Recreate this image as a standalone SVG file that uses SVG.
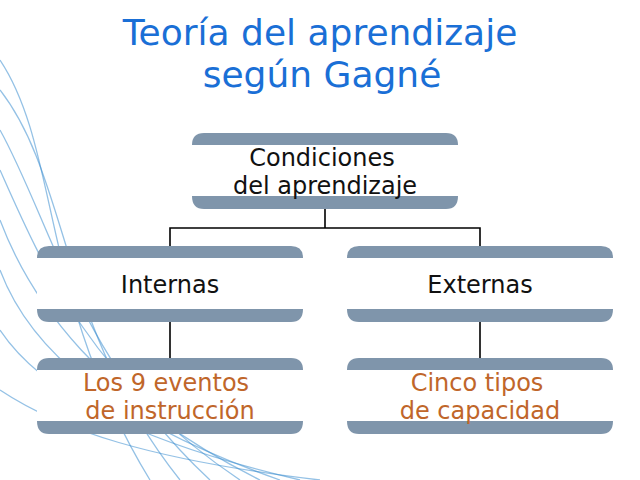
<svg xmlns="http://www.w3.org/2000/svg" width="640" height="480" viewBox="0 0 640 480">
<defs>
<style>
.bar{fill:#7f95ab}
.box{fill:#ffffff}
.t{font-family:"DejaVu Sans","Noto Sans",sans-serif;font-size:24px;text-anchor:middle;fill:#111}
.o{fill:#c0662a}
.title{font-family:"DejaVu Sans","Noto Sans",sans-serif;font-size:36px;text-anchor:middle;fill:#1a6fd6}
.ln{stroke:#000;stroke-width:1.6;fill:none}
.sw{fill:none;stroke:#3d8ed0;stroke-width:1.3;opacity:0.55}
</style>
<g id="nodeShape">
<path d="M0,12 Q0,0 12,0 H254 Q266,0 266,12 Z" class="bar"/>
<rect x="0" y="12" width="266" height="52" class="box"/>
<path d="M0,63 H266 Q266,76 254,76 H12 Q0,76 0,63 Z" class="bar"/>
</g>
</defs>
<rect width="640" height="480" fill="#fff"/>
<g id="background">
<path class="sw" d="M0,60 C60,150 40,300 150,480"/>
<path class="sw" d="M0,90 C70,180 60,330 180,480"/>
<path class="sw" d="M0,130 C50,220 80,360 210,480"/>
<path class="sw" d="M0,170 C40,260 90,380 240,480"/>
<path class="sw" d="M0,220 C30,300 100,400 260,480"/>
<path class="sw" d="M0,270 C30,350 110,420 280,480"/>
<path class="sw" d="M0,330 C40,390 130,440 300,480"/>
<path class="sw" d="M0,390 C60,430 150,460 320,480"/>
</g>
<g id="title">
<text class="title" x="320" y="45">Teoría del aprendizaje</text>
<text class="title" x="322" y="87">según Gagné</text>
</g>
<g id="connectors">
<path class="ln" d="M325,209 V228 M170,246 V228 H480 V246 M170,322 V358 M480,322 V358"/>
</g>
<g id="n1"><use href="#nodeShape" x="192" y="133"/>
<text class="t" x="322" y="166">Condiciones</text><text class="t" x="325" y="194">del aprendizaje</text></g>
<g id="n2"><use href="#nodeShape" x="37" y="246"/>
<text class="t" x="170" y="293">Internas</text></g>
<g id="n3"><use href="#nodeShape" x="347" y="246"/>
<text class="t" x="480" y="293">Externas</text></g>
<g id="n4"><use href="#nodeShape" x="37" y="358"/>
<text class="t o" x="166" y="391">Los 9 eventos</text><text class="t o" x="170" y="419">de instrucción</text></g>
<g id="n5"><use href="#nodeShape" x="347" y="358"/>
<text class="t o" x="477" y="391">Cinco tipos</text><text class="t o" x="480" y="419">de capacidad</text></g>
</svg>
